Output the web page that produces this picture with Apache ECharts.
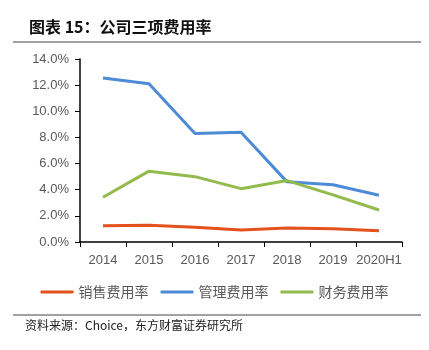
<!DOCTYPE html>
<html><head><meta charset="utf-8">
<script src="https://cdn.jsdelivr.net/npm/echarts@6/dist/echarts.min.js"></script>
<style>html,body{margin:0;padding:0;background:#fff}#c{width:429px;height:350px}</style>
</head><body><div id="c"></div>
<script>
const categories = ['2014','2015','2016','2017','2018','2019','2020H1'];
const sales = [1.25, 1.28, 1.12, 0.92, 1.08, 1.02, 0.86];
const admin = [12.55, 12.1, 8.3, 8.4, 4.6, 4.38, 3.58];
const finance = [3.42, 5.42, 5.0, 4.08, 4.7, 3.6, 2.45];
const seriesNames = ['销售费用率','管理费用率','财务费用率'];
const yTicks = [0, 2, 4, 6, 8, 10, 12, 14];

const chart = echarts.init(document.getElementById('c'));
const cjk = '"Noto Sans CJK SC", sans-serif';
const colors = ['#E2521D', '#4E8BD6', '#93BA4C'];
chart.setOption({
  animation: false,
  backgroundColor: '#fff',
  title: {
    text: '图表 15：公司三项费用率', left: 24, top: 14,
    textStyle: {fontFamily: cjk, fontSize: 16, fontWeight: 'bold', color: '#111'}
  },
  graphic: [
    {type: 'line', shape: {x1: 13, y1: 42, x2: 421, y2: 42}, style: {stroke: '#444', lineWidth: 1}},
    {type: 'line', shape: {x1: 13, y1: 315, x2: 421, y2: 315}, style: {stroke: '#444', lineWidth: 1}},
    {type: 'text', left: 25, top: 319, style: {text: '资料来源：Choice，东方财富证券研究所', font: '12px "Noto Sans CJK SC"', fill: '#222'}}
  ],
  legend: {
    top: 280, left: 'center', itemWidth: 33, itemHeight: 3, itemGap: 12,
    icon: 'roundRect',
    textStyle: {fontFamily: cjk, fontSize: 14, color: '#595959'},
    data: seriesNames
  },
  grid: {left: 80, right: 27, top: 59, bottom: 108},
  xAxis: {
    type: 'category', data: categories, boundaryGap: true,
    axisLine: {lineStyle: {color: '#000', width: 1.5}},
    axisTick: {show: true, length: 5, lineStyle: {color: '#000'}},
    axisLabel: {interval: 0, fontFamily: 'Liberation Sans, sans-serif', fontSize: 13, color: '#595959', margin: 12}
  },
  yAxis: {
    type: 'value', min: 0, max: 14, interval: 2,
    splitLine: {show: false},
    axisLine: {show: true, lineStyle: {color: '#000', width: 1.5}},
    axisTick: {show: true, length: 5, lineStyle: {color: '#000'}},
    axisLabel: {fontFamily: 'Liberation Sans, sans-serif', fontSize: 13, color: '#595959', margin: 11,
      formatter: v => v.toFixed(1) + '%'}
  },
  series: [sales, admin, finance].map((d, i) => ({
    name: seriesNames[i], type: 'line', data: d, symbol: 'none',
    lineStyle: {width: 3, color: colors[i]}, itemStyle: {color: colors[i]}
  }))
});
</script></body></html>
